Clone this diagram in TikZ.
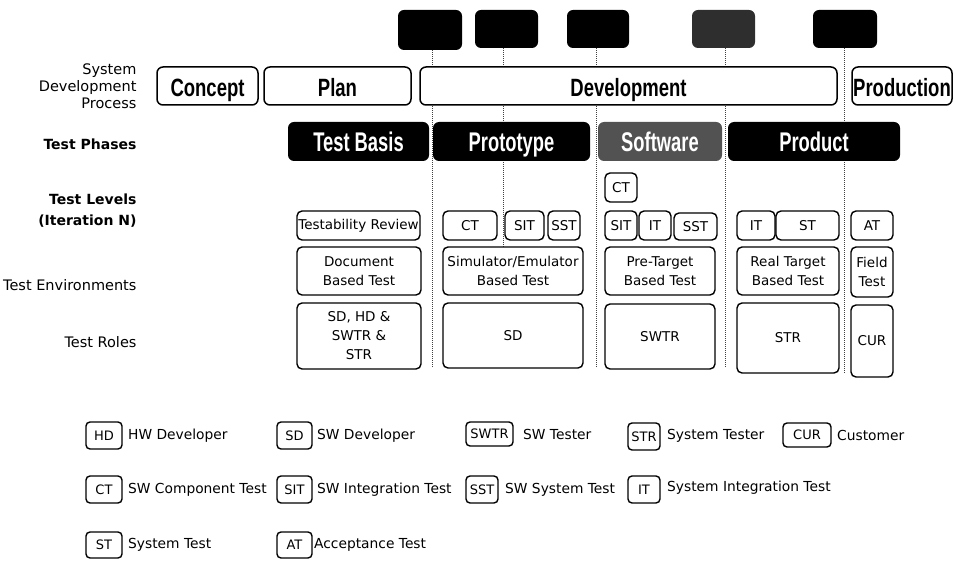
\documentclass[tikz,border=0pt]{standalone}
\usepackage{fontspec}
\setmainfont{DejaVu Sans}
\newfontfamily\condA[FakeStretch=0.74]{Liberation Sans}
\newfontfamily\condB[FakeStretch=0.68]{Liberation Sans}
\usetikzlibrary{backgrounds}
\newcommand\bx[7][box]{\node[#1, minimum width={#5pt-#3pt}, minimum height={#6pt-#4pt}] (#2) at ({(#3+#5)/2},{(#4+#6)/2}) {#7};}
\tikzset{
  box/.style={draw, rounded corners=5pt, line width=1.4pt, fill=white, inner sep=0pt, align=center, font=\fontsize{13.5}{19}\selectfont},
  sdp/.style={draw, rounded corners=6pt, line width=1.5pt, fill=white, inner sep=0pt, text height=22pt, text depth=0pt, font=\condA\bfseries\fontsize{25}{26}\selectfont},
  phase/.style={fill=black, rounded corners=6pt, inner sep=0pt, text=white, text height=21pt, text depth=0pt, font=\condB\bfseries\fontsize{27}{28}\selectfont},
  mile/.style={fill=black, rounded corners=6pt, inner sep=0pt},
  vdash/.style={line width=0.8pt, dash pattern=on 1pt off 1pt, black!75},
  rowlabel/.style={anchor=east, align=right, font=\fontsize{14.5}{17}\selectfont},
  rowlabelb/.style={anchor=east, align=right, font=\bfseries\fontsize{14}{21}\selectfont},
  leg/.style={draw, rounded corners=4pt, line width=1.4pt, inner sep=0pt, font=\fontsize{13}{14}\selectfont},
  legtext/.style={anchor=west, inner sep=0pt, font=\fontsize{13.8}{14}\selectfont},
}
\begin{document}
\begin{tikzpicture}[x=1pt, y=-1pt]
\useasboundingbox (0,0) rectangle (954,561);
% milestones
\bx[mile]{m1}{398}{10}{462}{50}{}
\bx[mile]{m2}{475}{10}{538}{48}{}
\bx[mile]{m3}{567}{10}{629}{48}{}
\bx[mile, fill=black!82]{m4}{692}{10}{755}{48}{}
\bx[mile]{m5}{813}{10}{877}{48}{}
% row labels
\node[rowlabel] (lsdp) at (140,86) {System\\Development\\Process};
\node[rowlabelb] (lphase) at (140,144) {Test Phases};
\node[rowlabelb] (llevel) at (140,211) {Test Levels\\(Iteration N)};
\node[rowlabel] (lenv) at (140,285) {Test Environments};
\node[rowlabel] (lrole) at (140,342) {Test Roles};
% system development process
\bx[sdp]{concept}{157}{67}{258}{105}{Concept}
\bx[sdp]{plan}{264}{67}{411}{105}{Plan}
\bx[sdp]{dev}{420}{67}{837}{105}{Development}
\bx[sdp]{prod}{852}{67}{952}{105}{Production}
% test phases
\bx[phase]{basis}{288}{122}{429}{161}{Test Basis}
\bx[phase]{proto}{433}{122}{590}{161}{Prototype}
\bx[phase, fill=black!68]{soft}{598}{122}{722}{161}{Software}
\bx[phase]{product}{728}{122}{900}{161}{Product}
% test levels
\bx{ct2}{605}{173}{637}{202}{CT}
\bx{trev}{297}{211}{420}{240}{Testability Review}
\bx{ct1}{443}{211}{497}{240}{CT}
\bx{sit1}{505}{211}{544}{240}{SIT}
\bx{sst1}{548}{211}{580}{240}{SST}
\bx{sit2}{605}{211}{637}{240}{SIT}
\bx{it1}{639}{211}{671}{240}{IT}
\bx{sst2}{674}{213}{717}{240}{SST}
\bx{it2}{737}{211}{775}{240}{IT}
\bx{st1}{776}{211}{839}{240}{ST}
\bx{at1}{851}{211}{893}{240}{AT}
% environments
\bx{doc}{297}{247}{421}{295}{Document\\Based Test}
\bx{sim}{443}{247}{583}{295}{Simulator/Emulator\\Based Test}
\bx{pre}{605}{247}{715}{295}{Pre-Target\\Based Test}
\bx{real}{737}{247}{839}{295}{Real Target\\Based Test}
\bx{field}{851}{247}{893}{297}{Field\\Test}
% roles
\bx{r1}{297}{303}{421}{369}{SD, HD \&\\SWTR \&\\STR}
\bx{r2}{443}{303}{583}{368}{SD}
\bx{r3}{605}{304}{715}{369}{SWTR}
\bx{r4}{737}{303}{839}{373}{STR}
\bx{r5}{851}{305}{893}{377}{CUR}
% dashed milestone lines
\coordinate (e1) at (432,367);
\coordinate (e2) at (503,247);
\coordinate (e3) at (596,367);
\coordinate (e4) at (725,368);
\coordinate (e5) at (844,373);
\begin{scope}[on background layer]
\draw[vdash] (m1.south -| e1) -- (e1);
\draw[vdash] (m2.south -| e2) -- (e2);
\draw[vdash] (m3.south -| e3) -- (e3);
\draw[vdash] (m4.south -| e4) -- (e4);
\draw[vdash] (m5.south -| e5) -- (e5);
\end{scope}
% legend
\bx[leg]{lhd}{86}{422}{122}{449}{HD}
\node[legtext] (thd) at (128,436) {HW Developer};
\bx[leg]{lsd}{277}{422}{312}{449}{SD}
\node[legtext] (tsd) at (317,436) {SW Developer};
\bx[leg]{lswtr}{466}{422}{513}{446}{SWTR}
\node[legtext] (tswtr) at (523,434) {SW Tester};
\bx[leg]{lstr}{628}{423}{660}{450}{STR}
\node[legtext] (tstr) at (667,436) {System Tester};
\bx[leg]{lcur}{783}{423}{831}{447}{CUR}
\node[legtext] (tcur) at (837,435) {Customer};
\bx[leg]{lct}{86}{476}{122}{503}{CT}
\node[legtext] (tct) at (128,490) {SW Component Test};
\bx[leg]{lsit}{277}{476}{312}{503}{SIT}
\node[legtext] (tsit) at (317,490) {SW Integration Test};
\bx[leg]{lsst}{466}{476}{498}{503}{SST}
\node[legtext] (tsst) at (505,490) {SW System Test};
\bx[leg]{lit}{628}{476}{660}{503}{IT}
\node[legtext] (tit) at (667,488) {System Integration Test};
\bx[leg]{lst}{86}{532}{122}{558}{ST}
\node[legtext] (tst) at (128,545) {System Test};
\bx[leg]{lat}{277}{532}{312}{558}{AT}
\node[legtext] (tat) at (314,545) {Acceptance Test};
\end{tikzpicture}
\end{document}
